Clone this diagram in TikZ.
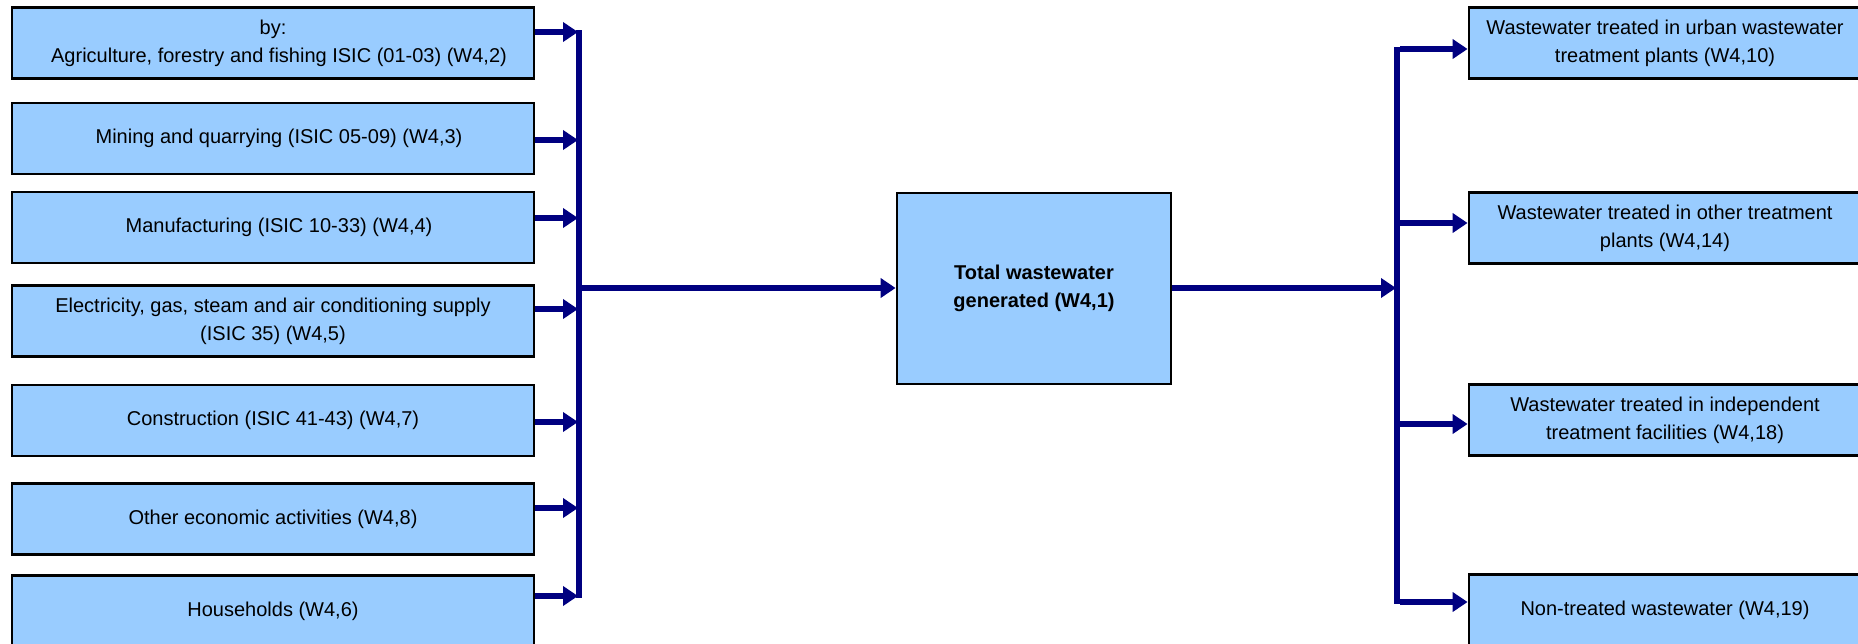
\documentclass[tikz,border=0pt]{standalone}
\usepackage{fontspec}
\setmainfont{Liberation Sans}
\usetikzlibrary{arrows.meta}
\definecolor{boxblue}{RGB}{153,204,255}
\definecolor{navyline}{RGB}{0,0,128}
\tikzset{
  box/.style={draw=black, line width=2.8pt, fill=boxblue, rectangle, inner sep=0pt,
    align=center, font=\fontsize{20}{28}\selectfont, minimum height=71pt},
  lbox/.style={box, minimum width=522pt},
  rbox/.style={box, minimum width=392pt},
  cbox/.style={box, minimum width=274pt, minimum height=191pt,
    font=\fontsize{20}{28}\selectfont\bfseries},
  flow/.style={draw=navyline, line width=5.2pt, -{Triangle[length=15pt,width=19pt]}},
  bus/.style={draw=navyline, line width=5.2pt},
}
\begin{document}
\begin{tikzpicture}[x=1pt,y=-1pt]
\useasboundingbox (0,0) rectangle (1858,643);
\clip (0,0) rectangle (1858,643);
% left boxes
\node[lbox] (L1) at (273,43) {by:\\\hspace*{12pt}Agriculture, forestry and fishing ISIC (01-03) (W4,2)};
\node[lbox] (L2) at (273,138.5) {\hspace*{12pt}Mining and quarrying (ISIC 05-09) (W4,3)};
\node[lbox] (L3) at (273,227.5) {\hspace*{12pt}Manufacturing (ISIC 10-33) (W4,4)};
\node[lbox] (L4) at (273,321) {Electricity, gas, steam and air conditioning supply\\(ISIC 35) (W4,5)};
\node[lbox] (L5) at (273,420.5) {Construction (ISIC 41-43) (W4,7)};
\node[lbox] (L6) at (273,519) {Other economic activities (W4,8)};
\node[lbox] (L7) at (273,611) {Households (W4,6)};
% centre
\node[cbox] (C) at (1034,288.5) {Total wastewater\\generated (W4,1)};
% right boxes
\node[rbox] (R1) at (1665,43) {Wastewater treated in urban wastewater\\treatment plants (W4,10)};
\node[rbox] (R2) at (1665,228) {Wastewater treated in other treatment\\plants (W4,14)};
\node[rbox] (R3) at (1665,420) {Wastewater treated in independent\\treatment facilities (W4,18)};
\node[rbox] (R4) at (1665,610) {Non-treated wastewater (W4,19)};
% left bus
\coordinate (lbt) at (579,30);
\coordinate (lbb) at (579,598);
\draw[bus] (lbt) -- (lbb);
\coordinate (b1) at (578,32);
\coordinate (b2) at (578,140);
\coordinate (b3) at (578,218);
\coordinate (b4) at (578,309);
\coordinate (b5) at (578,422);
\coordinate (b6) at (578,508);
\coordinate (b7) at (578,596);
\foreach \i in {1,...,7} { \draw[flow] (L\i.east |- b\i) -- (b\i); }
% main flow
\coordinate (lm) at (579,288);
\draw[flow] (lm) -- (C.west |- lm);
\coordinate (rm) at (1396,288);
\draw[flow] (C.east |- rm) -- (rm);
% right bus
\coordinate (rbt) at (1397,47);
\coordinate (rbb) at (1397,604);
\draw[bus] (rbt) -- (rbb);
\coordinate (r1) at (1400,49);
\coordinate (r2) at (1400,223);
\coordinate (r3) at (1400,424);
\coordinate (r4) at (1400,602);
\foreach \i in {1,...,4} { \draw[flow] (r\i) -- (R\i.west |- r\i); }
\end{tikzpicture}
\end{document}
